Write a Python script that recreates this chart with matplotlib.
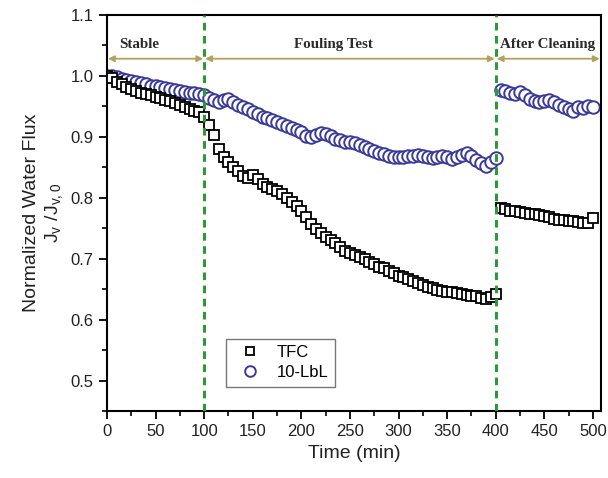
import matplotlib.pyplot as plt
from matplotlib.ticker import MultipleLocator

plt.rcParams['font.family'] = ['Liberation Sans', 'DejaVu Sans']
plt.rcParams['mathtext.default'] = 'regular'

# time grid (min)
t_stable = list(range(0, 101, 5))
t_fouling = list(range(105, 401, 5))
t_after = list(range(405, 501, 5))

# TFC membrane
tfc_stable = [1.000, 0.996, 0.990, 0.986, 0.982, 0.978, 0.975, 0.972, 0.970, 0.968,
              0.966, 0.963, 0.961, 0.958, 0.955, 0.952, 0.949, 0.946, 0.943, 0.940, 0.933]
tfc_fouling = [0.920, 0.903, 0.880, 0.866, 0.858, 0.850, 0.843, 0.836, 0.833, 0.837,
               0.830, 0.822, 0.817, 0.814, 0.811, 0.806, 0.799, 0.793, 0.786, 0.778,
               0.768, 0.757, 0.748, 0.742, 0.736, 0.731, 0.725, 0.719, 0.713, 0.709,
               0.706, 0.703, 0.699, 0.695, 0.691, 0.687, 0.684, 0.680, 0.676, 0.672,
               0.670, 0.667, 0.663, 0.660, 0.657, 0.654, 0.652, 0.649, 0.647, 0.646,
               0.645, 0.644, 0.642, 0.641, 0.639, 0.638, 0.636, 0.634, 0.637, 0.642]
tfc_after = [0.783, 0.781, 0.779, 0.778, 0.776, 0.775, 0.774, 0.773, 0.771, 0.770,
             0.768, 0.765, 0.764, 0.763, 0.761, 0.761, 0.760, 0.759, 0.758, 0.766]

# 10-LbL membrane
lbl_stable = [1.000, 1.000, 0.998, 0.995, 0.993, 0.991, 0.989, 0.988, 0.986, 0.984,
              0.983, 0.981, 0.980, 0.978, 0.977, 0.975, 0.974, 0.972, 0.971, 0.970, 0.968]
lbl_fouling = [0.963, 0.960, 0.957, 0.960, 0.962, 0.957, 0.952, 0.948, 0.945, 0.941,
               0.937, 0.933, 0.930, 0.927, 0.924, 0.921, 0.918, 0.915, 0.911, 0.907,
               0.902, 0.900, 0.903, 0.906, 0.905, 0.901, 0.897, 0.894, 0.892, 0.891,
               0.889, 0.886, 0.883, 0.880, 0.877, 0.874, 0.872, 0.869, 0.867, 0.866,
               0.866, 0.868, 0.869, 0.870, 0.868, 0.866, 0.865, 0.867, 0.869, 0.866,
               0.864, 0.866, 0.870, 0.873, 0.869, 0.862, 0.857, 0.852, 0.858, 0.865]
lbl_after = [0.977, 0.975, 0.971, 0.970, 0.974, 0.968, 0.962, 0.959, 0.957, 0.958,
             0.961, 0.957, 0.952, 0.949, 0.945, 0.943, 0.949, 0.947, 0.950, 0.948]

phases = ['Stable', 'Fouling Test', 'After Cleaning']
phase_edges = [0, 100, 400, 508]

t_all = t_stable + t_fouling + t_after
tfc_all = tfc_stable + tfc_fouling + tfc_after
lbl_all = lbl_stable + lbl_fouling + lbl_after

fig = plt.figure(figsize=(6.08, 4.78), dpi=100)
ax = fig.add_axes([0.176, 0.14, 0.812, 0.829])

ax.plot(t_all, tfc_all, 's', ms=6.5, mfc='white', mec='black', mew=1.3,
        ls='none', label='TFC', zorder=3)
ax.plot(t_all, lbl_all, 'o', ms=9, mfc='white', mec='#3a3a9a', mew=1.4,
        ls='none', label='10-LbL', zorder=2)

for x in phase_edges[1:3]:
    ax.axvline(x, color='#2a9a3a', ls=(0, (2.5, 1.8)), lw=2.2, zorder=4)

arrow_y = 1.028
text_y = 1.052
for i, name in enumerate(phases):
    x0, x1 = phase_edges[i], phase_edges[i + 1]
    ax.annotate('', xy=(x0 + 1, arrow_y), xytext=(x1 - 1, arrow_y),
                arrowprops=dict(arrowstyle='<|-|>', color='#b5a25a', lw=1.3,
                                mutation_scale=9, shrinkA=0, shrinkB=0))
xs_text = [13, 233, 404]
has = ['left', 'center', 'left']
for name, x, ha in zip(phases, xs_text, has):
    ax.text(x, text_y, name, ha=ha, va='center', fontsize=10.8, fontweight='bold',
            family='Liberation Serif', color='#2a2a2a')

ax.set_xlim(0, 508)
ax.set_ylim(0.45, 1.1)
ax.xaxis.set_major_locator(MultipleLocator(50))
ax.xaxis.set_minor_locator(MultipleLocator(25))
ax.yaxis.set_major_locator(MultipleLocator(0.1))
ax.yaxis.set_minor_locator(MultipleLocator(0.05))
ax.yaxis.set_major_formatter(plt.FormatStrFormatter('%.1f'))
ax.tick_params(which='major', direction='out', length=6, width=1.3, labelsize=12,
               labelcolor='#222222')
ax.tick_params(which='minor', direction='out', length=3.5, width=1.2)
ax.tick_params(top=False, right=False)
for s in ax.spines.values():
    s.set_linewidth(1.5)

ax.set_xlabel('Time (min)', fontsize=14, color='#222222')
ax.set_ylabel('Normalized Water Flux\n$J_v$ /$J_{v,0}$', fontsize=14, linespacing=1.2,
              color='#222222')

ax.legend(loc='lower left', bbox_to_anchor=(0.225, 0.04), fontsize=12,
          frameon=True, fancybox=False, edgecolor='#555555', handletextpad=0.6,
          borderpad=0.4, labelspacing=0.3, markerscale=0.85)

fig.savefig('out.png', dpi=100)
